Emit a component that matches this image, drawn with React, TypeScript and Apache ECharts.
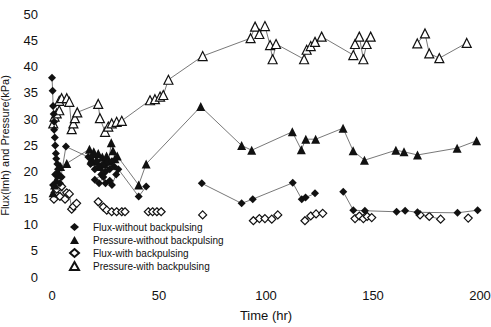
import React, { useEffect, useRef } from 'react';
import * as echarts from 'echarts';

// [time (hr), value]; null value = line break
const fluxWithout: [number, number | null][] = [
  [0, 37.9], [0.3, 35.4], [0.5, 32.5], [0.8, 31], [1, 29.5], [1, 28], [1.3, 26.5], [1.5, 25],
  [1.8, 23.5], [2, 22.5], [2.5, 21.5], [2.8, 20.5], [1.5, 19.5], [4.5, 19], [0.5, 17.5], [3.7, 17.8],
  [6.5, 24.8], [17, 22.8], [18, 21.5], [19, 23], [20, 20.5], [21, 22], [22, 21], [23, 19.5],
  [24, 21.5], [25, 20], [26, 21.8], [27, 20.5], [28, 22], [29, 21], [20, 18.5], [22, 17.8],
  [24, 19], [25, 17.8], [27, 18.3], [28, 17.5], [30, 19.5], [31, 20.5], [40.5, 15.3], [44, 17.2],
  [45, null], [70, 17.8], [88.6, 14], [93.8, 14.8], [112.5, 17.9], [116.7, 14.8], [118.5, 15.1],
  [122.9, 15.9], [130, null], [136.1, 16.2], [140.8, 12.7], [146.2, 12.6], [161, 12.4], [165, 12.6],
  [170.8, 12.3], [189.5, 12.2], [198.9, 12.7],
];

const pressureWithout: [number, number | null][] = [
  [0.5, 16], [1.2, 17.5], [2, 18.5], [2.5, 20], [3.5, 19.5], [4, 21], [6.9, 21.6], [17.5, 24.3],
  [18.5, 22.5], [19.5, 23.8], [20.5, 22], [21.6, 23.5], [22.5, 21], [23.5, 22.8], [24.5, 21.5],
  [25.5, 23], [26.5, 22], [27.7, 25.5], [28.5, 24], [29.4, 22.5], [30.5, 23], [40.5, 17.5],
  [44, 21.5], [69.5, 32.4], [88.6, 25], [93.3, 24.1], [112.3, 27.6], [116.5, 24.2], [118.6, 26.2],
  [123.2, 26.2], [136, 28.3], [140.7, 24], [146, 22.2], [160.7, 24.1], [164.5, 23.8], [170.8, 23.2],
  [189.3, 24.5], [198.4, 25.9],
];

const fluxWith: [number, number | null][] = [
  [0.9, 14.8], [1.5, 16], [2.2, 16.7], [3.7, 15.3], [4.5, 17.2], [6.1, 14.8], [6.9, 16], [8.1, 15.8],
  [9.2, 12.9], [10, 13.4], [11.5, 14], [12, null], [21.6, 14.3], [24, 13.3], [25.6, 12.7],
  [27.9, 12.4], [30.2, 12.4], [32.6, 12.4], [34.1, 12.4], [40, null], [45, 12.4], [47, 12.4],
  [49, 12.4], [51, 12.4], [60, null], [70.4, 11.8], [80, null], [94.1, 10.7], [96.9, 11.1],
  [99.5, 11.1], [102.7, 11], [105.5, 11.8], [110, null], [118.2, 10.7], [120.9, 11.6], [123.4, 12],
  [126.5, 12.1], [130, null], [141.6, 11.1], [143.6, 11.6], [145.5, 11.1], [147.3, 11.5],
  [149.4, 11.3], [160, null], [172, 11.8], [176.3, 11.5], [181.6, 11], [190, null], [194.5, 11.2],
];

const pressureWith: [number, number | null][] = [
  [0.6, 29.2], [1.2, 30.5], [2.2, 31.1], [3.4, 31.7], [3.4, 33.5], [4.5, 34], [6.9, 34], [8.1, 33.3],
  [9.2, 28.1], [10, 29.2], [10.7, 30.2], [11.8, 31.3], [21.6, 32.9], [22.4, 30.2], [24.8, 27.6],
  [26.3, 28.6], [27.9, 29.2], [30.2, 29.5], [32.6, 29.7], [45.8, 33.6], [48.1, 33.8], [50.5, 34.3],
  [52, 34.6], [54.4, 37.5], [70.4, 42], [92.8, 45.4], [94.9, 47.6], [96.9, 46.2], [99.5, 47.7],
  [101.9, 44.1], [103.1, 41.4], [104.7, 44.3], [117.8, 41.4], [119, 43.2], [120.9, 43.9],
  [122.9, 44.7], [126, 45.7], [140.8, 42.2], [141.6, 44.3], [143.6, 45.7], [145.5, 41.4],
  [147, 44.3], [148.9, 45.7], [160, null], [170.7, 44.4], [174.3, 46.3], [176.3, 42.5], [181, 41.6],
  [193.8, 44.5],
];

const seriesNames = [
  'Flux-without backpulsing',
  'Pressure-without backpulsing',
  'Flux-with backpulsing',
  'Pressure-with backpulsing',
];

const xAxisName = 'Time (hr)';
const yAxisName = 'Flux(lmh) and Pressure(kPa)';

const FONT = '"Liberation Sans", Arial, sans-serif';
const INK = '#111';

function toLine(pts: [number, number | null][]) {
  return pts.map(([t, v]) => [t, v === null ? '-' : v]);
}

export default function App() {
  const ref = useRef<HTMLDivElement>(null);
  useEffect(() => {
    if (!ref.current) return;
    const chart = echarts.init(ref.current, undefined, { renderer: 'svg' });
    const lineStyle = { color: '#555', width: 0.8 };
    const filled = { color: INK };
    const open = { color: '#fff', borderColor: INK, borderWidth: 1.2 };
    const mk = (name: string, data: any[], symbol: string, size: any, itemStyle: any, z: number) => ({
      name,
      type: 'line',
      data,
      symbol,
      symbolSize: size,
      showSymbol: true,
      showAllSymbol: true,
      clip: false,
      itemStyle,
      lineStyle,
      z,
      emphasis: { disabled: true },
    });
    chart.setOption({
      animation: false,
      textStyle: { fontFamily: FONT },
      grid: {
        left: 52,
        top: 14,
        width: 428,
        height: 263,
        containLabel: false,
        outerBoundsMode: 'none',
      },
      legend: {
        orient: 'vertical',
        left: 64,
        top: 217,
        itemWidth: 9,
        itemHeight: 8,
        itemGap: 3,
        padding: 5,
        selectedMode: false,
        formatter: (name: string) => `{t|${name}}`,
        textStyle: {
          fontSize: 10,
          color: INK,
          fontFamily: FONT,
          rich: { t: { fontSize: 10, color: INK, fontFamily: FONT, padding: [0, 0, 0, 9] } },
        },
        data: [
          { name: seriesNames[0], icon: 'diamond' },
          { name: seriesNames[1], icon: 'triangle' },
          { name: seriesNames[2], icon: 'diamond' },
          { name: seriesNames[3], icon: 'triangle' },
        ],
      },
      xAxis: {
        type: 'value',
        min: 0,
        max: 200,
        interval: 50,
        axisLine: { show: false },
        axisTick: { show: false },
        splitLine: { show: false },
        axisLabel: { fontSize: 13, color: INK, margin: 12, fontFamily: FONT },
        name: xAxisName,
        nameLocation: 'middle',
        nameGap: 32,
        nameTextStyle: { fontSize: 13, color: INK, fontFamily: FONT },
      },
      yAxis: {
        type: 'value',
        min: 0,
        max: 50,
        interval: 5,
        axisLine: { show: false },
        axisTick: { show: false },
        splitLine: { show: false },
        axisLabel: { fontSize: 13, color: INK, margin: 14, fontFamily: FONT },
        name: yAxisName,
        nameLocation: 'middle',
        nameGap: 42,
        nameTextStyle: { fontSize: 11, color: INK, fontFamily: FONT },
      },
      series: [
        mk(seriesNames[3], toLine(pressureWith), 'triangle', 9, open, 2),
        mk(seriesNames[2], toLine(fluxWith), 'diamond', 8, open, 2),
        mk(seriesNames[1], toLine(pressureWithout), 'triangle', 9, filled, 3),
        mk(seriesNames[0], toLine(fluxWithout), 'diamond', 8, filled, 3),
      ],
    });
    return () => chart.dispose();
  }, []);
  return (
    <div
      ref={ref}
      style={{ position: 'absolute', left: 0, top: 0, width: 491, height: 327, background: '#fff' }}
    />
  );
}
